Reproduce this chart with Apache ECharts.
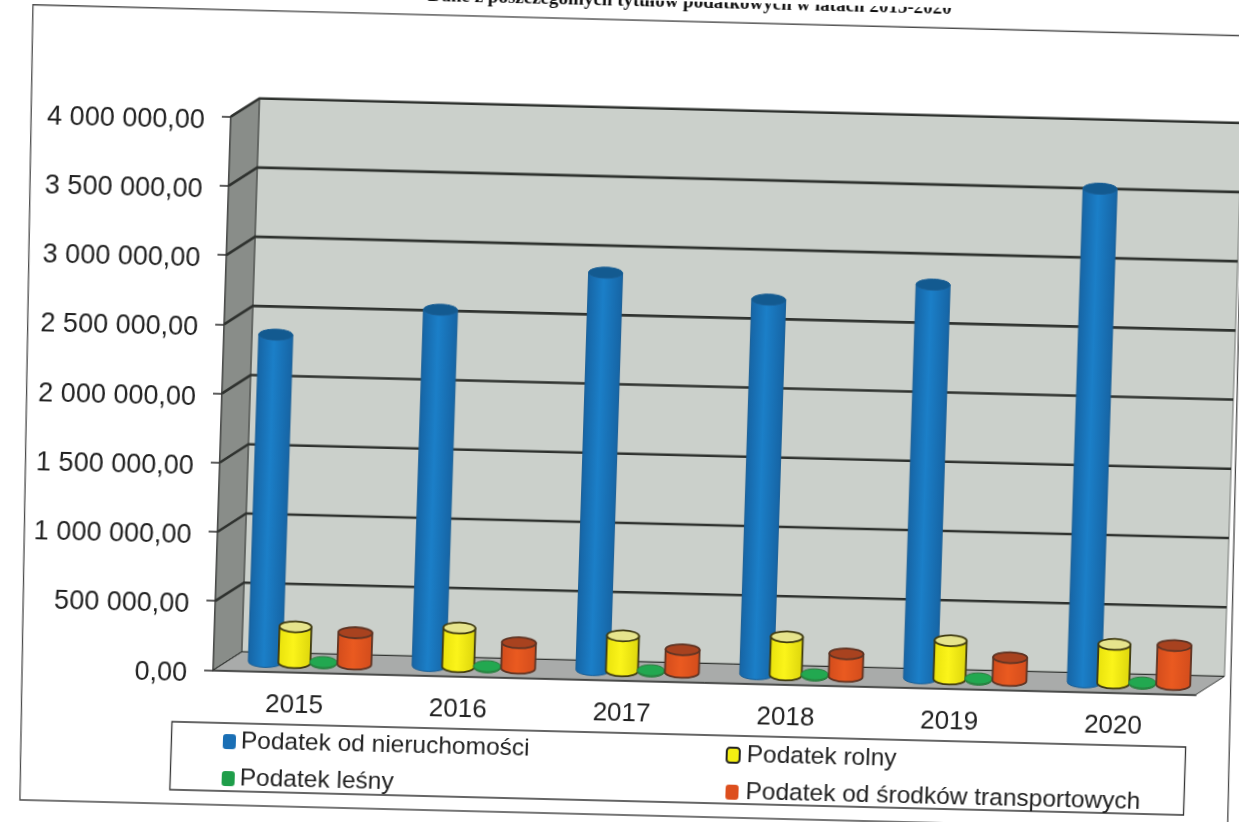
<!DOCTYPE html>
<html><head><meta charset="utf-8">
<style>
html,body{margin:0;padding:0;background:#fff;overflow:hidden;width:1239px;height:822px}
#chart{position:absolute;left:0;top:0;width:1270px;height:860px;transform-origin:0 0;transform:matrix(1,0.025,-0.032,1,13,-15.5)}
</style>
<script src="https://cdn.jsdelivr.net/npm/echarts@6/dist/echarts.min.js"></script>
</head><body><div id="chart"></div>
<script>
const categories = ['2015','2016','2017','2018','2019','2020'];
const nieruchomosci = [2365000,2575000,2872000,2707000,2845000,3568000];
const rolny = [259000,280000,253000,275000,277000,280000];
const lesny = [9000,9000,9000,9000,9000,9000];
const transportowe = [227000,184000,163000,163000,165000,282000];
const gridValues = [0,500000,1000000,1500000,2000000,2500000,3000000,3500000,4000000];
const titleText = 'Dane z poszczególnych tytułów podatkowych w latach 2015-2020';
const seriesNames = ['Podatek od nieruchomości','Podatek rolny','Podatek leśny','Podatek od środków transportowych'];

const DX = 28, DY = -19, RY = 5.5;
const G = echarts.graphic;
const grad = (a,b,c) => new G.LinearGradient(0,0,1,0,[{offset:0,color:a},{offset:.45,color:b},{offset:1,color:c}]);

function cylinder(offset, width, body, top, stroke, lw){
  return function(params, api){
    const p = api.coord([api.value(0), api.value(1)]);
    const b = api.coord([api.value(0), 0]);
    const cx = p[0] + DX/2 + offset, ty = p[1] + DY/2, by = b[1] + DY/2;
    const l = cx - width/2, r = cx + width/2;
    const ry = RY;
    return {type:'group',children:[
      {type:'path',shape:{pathData:`M${l} ${ty}L${l} ${by}A${width/2} ${ry} 0 0 0 ${r} ${by}L${r} ${ty}Z`,x:l,y:ty,width:width,height:by-ty+ry,layout:'cover'},
       style:{fill:body,stroke:stroke,lineWidth:lw}},
      {type:'ellipse',shape:{cx:cx,cy:ty,rx:width/2,ry:ry},style:{fill:top,stroke:stroke,lineWidth:lw}}
    ]};
  };
}

const wallRender = function(params, api){
  const c = params.coordSys;
  const x=c.x, y=c.y, w=c.width, h=c.height, bt=y+h;
  return {type:'group',children:[
    {type:'polygon',shape:{points:[[x+DX,y+DY],[x+w+DX,y+DY],[x+w+DX,bt+DY],[x+DX,bt+DY]]},style:{fill:'#cbd0cb',stroke:'#6d706d',lineWidth:1}},
    {type:'polygon',shape:{points:[[x,y],[x+DX,y+DY],[x+DX,bt+DY],[x,bt]]},style:{fill:'#898d89',stroke:'#3b3d3b',lineWidth:1}},
    {type:'polygon',shape:{points:[[x,bt],[x+DX,bt+DY],[x+w+DX,bt+DY],[x+w,bt]]},style:{fill:'#a9abaa',stroke:'#3b3d3b',lineWidth:1}}
  ]};
};
const gridRender = function(params, api){
  const c = params.coordSys;
  const v = api.value(0);
  const yy = api.coord([0, v])[1];
  return {type:'polyline',shape:{points:[[c.x,yy],[c.x+DX,yy+DY],[c.x+c.width+DX,yy+DY]]},
    style:{fill:'none',stroke:'#2f322f',lineWidth: v===0 ? 1 : 2.6}};
};
const rows = a => a.map((v,i)=>[i,v]);
const fmt = v => String(Math.round(v)).replace(/\B(?=(\d{3})+$)/g,' ') + ',00';
const legendText = {fontFamily:'"Liberation Sans"',fontSize:24.5,color:'#222'};

const chart = echarts.init(document.getElementById('chart'),null,{renderer:'canvas'});
chart.setOption({
  backgroundColor:'transparent',
  animation:false,
  title:{text:titleText,left:934,top:-13,textAlign:'right',
    textStyle:{fontFamily:'"Liberation Serif"',fontWeight:'bold',fontSize:19,color:'#111'}},
  grid:{left:222,top:126.7,width:983,height:553.7,containLabel:false},
  xAxis:{type:'category',data:categories,
    axisLine:{lineStyle:{color:'#2a2a2a',width:1.5}},
    axisTick:{length:9,lineStyle:{color:'#2a2a2a',width:1.5}},
    axisLabel:{color:'#222',fontFamily:'"Liberation Sans"',fontSize:26,margin:20}},
  yAxis:{type:'value',min:0,max:4000000,interval:500000,
    splitLine:{show:false},
    axisLine:{show:true,lineStyle:{color:'#2a2a2a',width:1.5}},
    axisTick:{show:true,length:9,lineStyle:{color:'#2a2a2a',width:1.5}},
    axisLabel:{color:'#222',fontFamily:'"Liberation Sans"',fontSize:27,margin:26,verticalAlign:'top',lineHeight:9,formatter:fmt}},
  legend:[
    {orient:'vertical',left:229,top:734,itemWidth:13,itemHeight:15,itemGap:12,data:[seriesNames[0],seriesNames[2]],icon:'roundRect',
     textStyle:legendText},
    {orient:'vertical',left:732,top:735,itemWidth:13,itemHeight:15,itemGap:12,data:[seriesNames[1],seriesNames[3]],icon:'roundRect',
     textStyle:Object.assign({padding:[0,0,0,2]},legendText)}
  ],
  graphic:[
    {type:'polygon',z:-1,shape:{points:[[20.6,19.7],[1233,20.5],[1241,815],[33,815]]},style:{fill:'#fff',stroke:'#4a4a4a',lineWidth:1.3}},
    {type:'rect',z:0,shape:{x:182.5,y:733,width:1014,height:68},style:{fill:'#fff',stroke:'#333',lineWidth:1.3}}
  ],
  series:[
    {type:'custom',name:'walls',z:1,silent:true,coordinateSystem:'cartesian2d',data:[[0,0]],renderItem:wallRender,encode:{x:0,y:1},clip:false},
    {type:'custom',name:'grid',z:2,silent:true,coordinateSystem:'cartesian2d',data:gridValues.map(v=>[v]),renderItem:gridRender,encode:{y:0},clip:false},
    {type:'custom',name:seriesNames[0],z:3,data:rows(nieruchomosci),encode:{x:0,y:1},itemStyle:{color:'#1a6fb5'},
      renderItem:cylinder(-44,34,grad('#1664a4','#1b7fc8','#1664a4'),'#135a90','#1a5f96',1)},
    {type:'custom',name:seriesNames[1],z:4,data:rows(rolny),encode:{x:0,y:1},itemStyle:{color:'#f4ee12',borderColor:'#222',borderWidth:2},
      renderItem:cylinder(-15,32,grad('#e8e10c','#fbf41a','#dcd50c'),'#e6e48c','#3f3a10',1.8)},
    {type:'custom',name:seriesNames[2],z:5,data:rows(lesny),encode:{x:0,y:1},itemStyle:{color:'#1f9e4a'},
      renderItem:cylinder(14,27,'#1f9e4a','#22a850','#2b7a3e',1)},
    {type:'custom',name:seriesNames[3],z:6,data:rows(transportowe),encode:{x:0,y:1},itemStyle:{color:'#dd4f1e'},
      renderItem:cylinder(45,34,grad('#d24c1c','#ea5a20','#d24c1c'),'#a8421f','#5e3424',1.8)}
  ]
});
</script></body></html>
